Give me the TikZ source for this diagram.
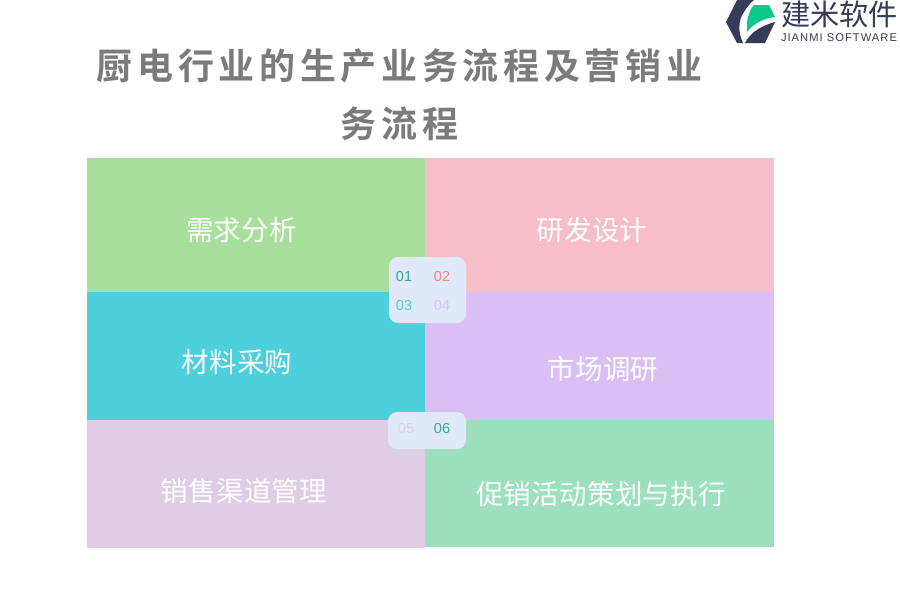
\documentclass[tikz,border=0pt]{standalone}
\usepackage{fontspec}
\setmainfont{Noto Sans}
\newfontfamily\cjk{Noto Sans CJK SC}
\newfontfamily\cjkl[LetterSpace=1]{Noto Sans CJK SC}
\newfontfamily\cjkt[LetterSpace=12.9]{Noto Sans CJK SC Bold}
\newfontfamily\numf{Liberation Sans}
\newfontfamily\logof[LetterSpace=9]{Liberation Sans}
\definecolor{cgreen}{HTML}{A9DF9C}
\definecolor{cpink}{HTML}{F7BEC9}
\definecolor{ccyan}{HTML}{4DD0DC}
\definecolor{cviolet}{HTML}{D9BFF4}
\definecolor{cmauve}{HTML}{DFCDE6}
\definecolor{cmint}{HTML}{9CE0BE}
\definecolor{badge}{HTML}{DFE9F9}
\definecolor{navy}{HTML}{343C58}
\definecolor{lgreen}{HTML}{0DC88B}
\definecolor{titlec}{HTML}{7B7B7B}
\definecolor{numgreen}{HTML}{3BA58A}
\definecolor{numred}{HTML}{EC8A72}
\tikzset{
 x=1pt,y=-1pt,
 cell/.style={fill=#1,draw=none},
 lab/.style={font=\cjkl\fontsize{27.5}{27.5}\selectfont,text=white,inner sep=0pt,anchor=center},
 ttl/.style={font=\cjkt\fontsize{36}{36}\selectfont,text=titlec,inner sep=0pt},
 badgebox/.style={fill=badge,draw=none,rounded corners=9pt},
 num/.style={font=\numf\fontsize{14.5}{14.5}\selectfont,inner sep=0pt,text=#1},
}
\begin{document}
\begin{tikzpicture}
\useasboundingbox (0,0) rectangle (900,600);
\fill[white] (0,0) rectangle (900,600);
\fill[cell=cgreen] (87,158) rectangle (425,292);
\fill[cell=cpink] (425,158) rectangle (774,292);
\fill[cell=ccyan] (87,292) rectangle (425,420);
\fill[cell=cviolet] (425,292) rectangle (774,420);
\fill[cell=cmauve] (87,420) rectangle (425,548);
\fill[cell=cmint] (425,420) rectangle (774,547);
\node[ttl] (t1) at (399.5,66) {厨电行业的生产业务流程及营销业};
\node[ttl] (t2) at (399.5,124) {务流程};
\node[lab] (a) at (241.5,230) {需求分析};
\node[lab] (b) at (592,230) {研发设计};
\node[lab] (c) at (237,362) {材料采购};
\node[lab] (d) at (603,369) {市场调研};
\node[lab] (e) at (244,491) {销售渠道管理};
\node[lab] (f) at (601,494) {促销活动策划与执行};
\fill[badgebox] (389,257) rectangle (466,323);
\fill[badgebox] (388,412) rectangle (466,449);
\node[num=numgreen] (n1) at (404,277) {01};
\node[num=numred] (n2) at (442,277) {02};
\node[num=ccyan] (n3) at (404,306) {03};
\node[num=cviolet] (n4) at (442,306) {04};
\node[num=cmauve] (n5) at (406,429) {05};
\node[num=numgreen] (n6) at (442,429) {06};
% logo
\fill[navy] (737,0) -- (726,22) -- (737,43) -- (743,43) .. controls (738,33) and (738,20) .. (744,12) .. controls (747,7) and (750,3) .. (754,0) -- cycle;
\fill[lgreen] (747,32) .. controls (746,22) and (748,12) .. (754,5) -- (769,5) -- (775,17) .. controls (764,18) and (753,24) .. (747,32) -- cycle;
\fill[navy] (745,43) .. controls (750,33) and (760,26) .. (775,22) -- (765,43) -- cycle;
\node[font=\cjk\fontsize{29.2}{29.2}\selectfont,text=navy,inner sep=0pt] (l1) at (839.5,14) {建米软件};
\node[font=\logof\fontsize{11.2}{11.2}\selectfont,text=navy,inner sep=0pt] (l2) at (839,38) {JIANMI SOFTWARE};
\end{tikzpicture}
\end{document}
